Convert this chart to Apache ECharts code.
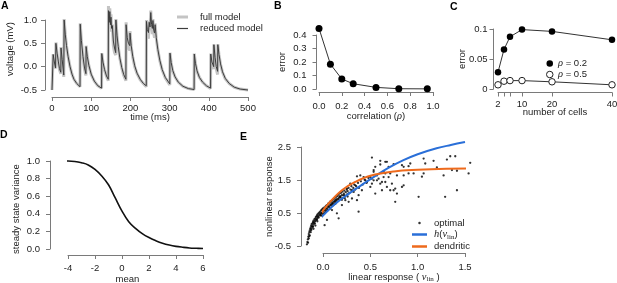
<!DOCTYPE html>
<html>
<head>
<meta charset="utf-8">
<script src="https://cdn.jsdelivr.net/npm/echarts@6/dist/echarts.min.js"></script>
<style>
html, body { margin: 0; padding: 0; background: #fff; }
#chart { width: 617px; height: 283px; }
</style>
</head>
<body>
<div id="chart"></div>
<script>
// A: voltage trace, rows are [time (ms), reduced model, full model]
var voltageTrace = [
	[0,-0.5,-0.5],[2.5,-0.5,-0.5],
	[3,0.26,0.27],[6,0.1,0.1],[9,-0.03,-0.04],
	[10,0.5,0.52],[13,0.29,0.28],[16,0.12,0.11],[19,-0.04,-0.06],[22.5,-0.12,-0.15],
	[23,0.4,0.42],[26,0.15,0.13],[30,-0.18,-0.22],
	[31,1.0,1.02],[34,0.68,0.68],[37,0.45,0.45],[41,0.22,0.22],[46,0.0,0.0],[51,-0.16,-0.16],[56,-0.27,-0.27],[63,-0.36,-0.36],[71.5,-0.43,-0.43],
	[72,0.91,0.93],[75,0.56,0.55],[79,0.22,0.2],[83,-0.03,-0.06],[86.5,-0.15,-0.19],
	[87,0.43,0.45],[90,0.22,0.21],[94,0.03,0.02],[100,-0.16,-0.17],[108,-0.31,-0.31],[117,-0.41,-0.41],[126.5,-0.46,-0.46],
	[127,0.28,0.29],[130,0.1,0.09],[134,-0.06,-0.07],[139,-0.2,-0.21],[143.5,-0.27,-0.3],
	[144,1.2,1.3],[146,0.95,0.9],[147.5,1.18,1.25],[149,0.9,0.82],[150.5,1.06,1.12],[152,0.82,0.75],[154,0.88,0.9],[156.5,0.55,0.45],[159.5,0.4,0.3],[162.5,0.3,0.25],
	[163,1.0,1.02],[166,0.66,0.65],[169,0.43,0.42],[173,0.19,0.18],[178,-0.02,-0.03],[183,-0.17,-0.19],[188.5,-0.27,-0.3],
	[189,0.9,0.95],[192,0.62,0.58],[195,0.5,0.4],[198.5,0.45,0.35],[199,0.72,0.76],[202,0.45,0.44],[206,0.22,0.2],[211,0.02,0.0],[217,-0.14,-0.15],[225,-0.27,-0.28],[233,-0.36,-0.36],[240.5,-0.41,-0.43],
	[241,0.97,1.0],[243,0.8,0.75],[246,0.73,0.6],[248,0.95,0.97],[250,0.85,0.8],[252,1.16,1.2],[254,0.9,0.85],[256,0.82,0.7],[257.5,0.99,1.02],[259.5,0.78,0.72],[261.5,0.72,0.62],[263,0.9,0.93],[266,0.62,0.6],[270,0.37,0.36],[275,0.14,0.13],[281,-0.06,-0.07],[289,-0.23,-0.24],[300.5,-0.37,-0.39],
	[301,0.29,0.3],[304,0.09,0.08],[308,-0.08,-0.09],[314,-0.22,-0.22],[322,-0.33,-0.33],[334,-0.42,-0.42],[348,-0.47,-0.47],[362.5,-0.49,-0.49],
	[363,0.27,0.28],[366,0.07,0.06],[370,-0.09,-0.1],[376,-0.23,-0.23],[384,-0.33,-0.33],[394,-0.41,-0.41],[404.5,-0.46,-0.47],
	[405,0.27,0.28],[408,0.1,0.08],[412.5,0.0,-0.05],
	[413,0.47,0.48],[416,0.2,0.18],[419,0.0,-0.05],[422.5,-0.1,-0.17],
	[423,0.47,0.48],[426,0.26,0.25],[430,0.06,0.05],[435,-0.11,-0.12],[442,-0.25,-0.26],[452,-0.36,-0.36],[465,-0.44,-0.44],[480,-0.48,-0.48],[500,-0.5,-0.5]
];

// B: error vs correlation
var corrValues = [0, 0.1, 0.2, 0.3, 0.5, 0.7, 0.95];
var corrError = [0.449, 0.184, 0.074, 0.039, 0.012, 0.002, 0.001];

// C: error vs number of cells
var cellCounts = [2, 4, 6, 10, 20, 40];
var cellTicks = [2, 4, 6, 10, 20, 40];
var cellLabels = [2, 10, 20, 40];
var errorRho02 = [0.028, 0.066, 0.087, 0.099, 0.096, 0.082];
var errorRho05 = [0.007, 0.013, 0.014, 0.014, 0.012, 0.007];

// D: steady state variance vs mean
var meanValues = [-5, -4, -3.5, -3, -2.5, -2, -1.5, -1, -0.5, 0, 0.5, 1, 1.5, 2, 2.5, 3, 3.5, 4, 4.5, 5, 5.5, 6];
var steadyVariance = [1.0, 1.0, 0.995, 0.98, 0.955, 0.905, 0.83, 0.73, 0.58, 0.43, 0.31, 0.235, 0.175, 0.13, 0.095, 0.066, 0.045, 0.03, 0.02, 0.012, 0.008, 0.005];

// E: nonlinear vs linear response
var hCurve = [[-0.16,-0.37],[-0.08,0.15],[0,0.42],[0.13,0.78],[0.27,1.08],[0.41,1.35],[0.55,1.62],[0.7,1.88],[0.85,2.1],[1.0,2.28],[1.2,2.46],[1.35,2.56],[1.5,2.65]];
var dendriticCurve = [[-0.22,-0.82],[-0.16,-0.47],[-0.1,0.03],[-0.03,0.44],[0.06,0.79],[0.2,1.19],[0.34,1.44],[0.5,1.63],[0.75,1.76],[1.0,1.81],[1.3,1.84],[1.68,1.85]];
var optimalPoints = [
	[-0.17,-0.45],[-0.165,-0.38],[-0.16,-0.3],[-0.158,-0.4],[-0.155,-0.22],[-0.15,-0.27],[-0.15,-0.14],[-0.145,-0.08],[-0.14,-0.18],[-0.14,-0.03],
	[-0.135,0.02],[-0.13,-0.08],[-0.13,0.06],[-0.125,0.11],[-0.12,0.02],[-0.12,0.16],[-0.115,0.08],[-0.11,0.19],[-0.11,0.1],[-0.105,0.23],
	[-0.1,0.15],[-0.1,0.27],[-0.095,0.2],[-0.09,0.31],[-0.085,0.24],[-0.08,0.34],[-0.08,0.27],[-0.075,0.38],[-0.07,0.3],[-0.065,0.41],
	[-0.06,0.34],[-0.06,0.45],[-0.055,0.38],[-0.05,0.48],[-0.045,0.41],[-0.04,0.51],[-0.035,0.45],[-0.03,0.54],[-0.025,0.48],[-0.02,0.58],
	[-0.015,0.5],[-0.01,0.61],[0,0.55],[0,0.64],[0.01,0.58],[0.015,0.67],[0.02,0.61],[0.03,0.71],[0.035,0.64],[0.04,0.74],
	[0.05,0.68],[0.055,0.78],[0.06,0.71],[0.07,0.81],[0.075,0.74],[0.08,0.85],[0.09,0.78],[0.095,0.88],[0.1,0.81],[0.11,0.91],
	[0.115,0.84],[0.12,0.95],[0.13,0.88],[0.135,0.98],[0.14,0.91],[0.15,1.01],[0.155,0.93],[0.16,1.05],[0.17,0.97],[0.175,1.09],
	[0.18,1.01],[0.19,1.11],[0.2,1.04],[0.205,1.15],[0.21,0.96],[0.22,1.09],[0.225,1.18],[0.23,1.03],[0.24,1.13],[0.25,1.21],
	[0.255,1.06],[0.26,1.16],[0.27,1.26],[0.28,1.11],[0.29,1.21],[0.3,1.31],[0.31,1.16],[0.32,1.26],[0.33,1.36],[0.34,1.21],
	[0.35,1.31],[0.37,1.41],[0.38,1.26],[0.4,1.46],[0.42,1.36],[0.44,1.51],[0.46,1.41],[0.48,1.56],
	[-0.1,0.02],[-0.06,0.25],[-0.02,0.42],[0.02,0.5],[0.05,0.58],[0.08,0.66],[0.11,0.74],[0.14,0.82],[-0.08,0.12],[0.0,0.47],
	[0.04,0.56],[0.07,0.62],[0.1,0.72],[0.13,0.78],
	[-0.145,-0.2],[-0.125,-0.02],[-0.105,0.08],[-0.085,0.18],[-0.065,0.3],[-0.045,0.36],[-0.025,0.44],[-0.005,0.5],[0.025,0.56],[0.045,0.62],
	[0.065,0.68],[0.085,0.74],[0.105,0.78],[0.125,0.85],[0.145,0.88],[0.165,0.92],[0.185,0.97],[0.2,0.9],[0.23,0.95],[0.26,1.0],
	[0.517,2.18],[0.552,1.9],[0.535,1.8],[0.605,1.97],[0.675,2.05],[0.658,1.7],[0.693,1.59],[0.623,1.44],[0.57,1.49],[0.517,1.54],
	[0.464,1.44],[0.5,1.29],[0.411,1.19],[0.376,1.04],[0.359,0.89],[0.376,0.54],[0.306,0.94],[0.271,1.09],[0.324,1.14],[0.341,1.34],
	[0.394,1.64],[0.359,1.61],[0.429,1.59],[0.447,1.49],[0.236,0.89],[0.2,0.74],[0.165,0.34],[0.147,0.49],[0.095,0.59],[0.042,0.29],
	[0.017,0.13],[0.288,1.39],[0.253,1.24],[0.306,1.19],[0.218,1.04],[0.271,0.84],[0.183,0.99],[0.13,0.79],[0.763,1.24],[0.728,1.39],
	[0.605,2.08],[0.658,2.05],[0.693,1.9],[0.746,1.98],[0.834,1.95],[0.852,1.9],[0.904,1.92],[0.922,2.0],[1.063,2.15],[1.08,2.0],
	[1.168,2.08],[1.309,2.12],[1.344,2.22],[1.397,2.22],[1.555,2.02],[1.538,1.7],[1.415,1.78],[1.362,1.8],[1.203,1.88],[1.063,1.7],
	[1.045,1.6],[0.957,1.7],[0.904,1.7],[0.852,1.64],[0.781,1.64],[0.71,1.7],[0.64,1.75],[0.57,1.64],[0.535,1.49],[0.605,1.39],
	[0.658,1.44],[0.675,1.29],[0.623,1.19],[0.552,1.09],[0.71,1.19],[0.746,1.19],[0.781,1.09],[0.852,1.34],[0.834,1.29],[0.763,0.84],
	[1.01,0.99],[1.29,0.99],[1.415,1.19],[1.274,1.64],[0.535,1.75],[0.5,1.59],[0.517,1.39],[0.587,1.54],[0.64,1.59]
];

var axisGray = '#7a7a7a';
var ink = '#222';
var sans = '"Liberation Sans", Arial, sans-serif';
var serif = '"Liberation Serif", "DejaVu Serif", serif';
var blue = '#2a6fd8';
var orange = '#ee6a1c';

function fixed1(v) {
	return v.toFixed(1);
}

function axis(o) {
	return {
		type: 'value',
		gridIndex: o.grid,
		min: o.min,
		max: o.max,
		interval: o.interval,
		offset: o.offset,
		name: o.name,
		nameLocation: 'middle',
		nameGap: o.nameGap,
		nameMoveOverlap: false,
		nameTextStyle: {color: ink, fontSize: 9.5, fontFamily: sans, rich: o.rich || {}, padding: o.namePad || 0},
		axisLine: {show: true, onZero: false, lineStyle: {color: axisGray, width: 1}},
		axisTick: {show: true, length: 4, lineStyle: {color: axisGray, width: 1}, customValues: o.ticks},
		axisLabel: {color: ink, fontSize: 9.5, fontFamily: sans, margin: o.margin, formatter: o.fmt,
			customValues: o.labels, showMinLabel: true, showMaxLabel: true, hideOverlap: false},
		splitLine: {show: false}
	};
}

var greek = {g: {fontFamily: serif, fontStyle: 'italic', fontSize: 10.5}};
var vlin = {
	v: {fontFamily: serif, fontStyle: 'italic', fontSize: 10.5},
	s: {fontFamily: serif, fontSize: 7, verticalAlign: 'bottom', lineHeight: 12},
	h: {fontFamily: serif, fontStyle: 'italic', fontSize: 10.5}
};

var chart = echarts.init(document.getElementById('chart'));

var option = {
	animation: false,
	backgroundColor: '#fff',
	textStyle: {fontFamily: sans},
	grid: [
		{left: 52, top: 20, width: 196, height: 70, outerBoundsMode: 'none', containLabel: false},
		{left: 319, top: 35, width: 114, height: 54, outerBoundsMode: 'none', containLabel: false},
		{left: 498, top: 29, width: 114, height: 60, outerBoundsMode: 'none', containLabel: false},
		{left: 68, top: 161, width: 135, height: 88, outerBoundsMode: 'none', containLabel: false},
		{left: 323, top: 147, width: 142, height: 99, outerBoundsMode: 'none', containLabel: false}
	],
	xAxis: [
		axis({grid: 0, min: 0, max: 500, interval: 100, offset: 7, margin: 6, name: 'time (ms)', nameGap: 15}),
		axis({grid: 1, min: 0, max: 1, interval: 0.2, offset: 3, margin: 9, fmt: fixed1, name: 'correlation ({g|ρ})', nameGap: 19, rich: greek}),
		axis({grid: 2, min: 2, max: 40, offset: 3.5, margin: 7, ticks: cellTicks, labels: cellLabels, name: 'number of cells', nameGap: 15}),
		axis({grid: 3, min: -4, max: 6, interval: 2, offset: 6, margin: 8, name: 'mean', nameGap: 19, namePad: [0, 16, 0, 0]}),
		axis({grid: 4, min: 0, max: 1.5, interval: 0.5, offset: 7, margin: 9, fmt: fixed1, name: 'linear response ( {v|v}{s|lin} )', nameGap: 18, rich: vlin})
	],
	yAxis: [
		axis({grid: 0, min: -0.5, max: 1, interval: 0.5, offset: 7, margin: 8, fmt: fixed1, name: 'voltage (mV)', nameGap: 30, namePad: [0, 0, 0, 12]}),
		axis({grid: 1, min: 0, max: 0.4, interval: 0.1, offset: 2.5, margin: 10, fmt: fixed1, name: 'error', nameGap: 29}),
		axis({grid: 2, min: 0, max: 0.1, interval: 0.05, offset: 4.5, margin: 6, name: 'error', nameGap: 26}),
		axis({grid: 3, min: 0, max: 1, interval: 0.2, offset: 18, margin: 10, fmt: fixed1, name: 'steady state variance', nameGap: 29, namePad: [0, 8, 0, 0]}),
		axis({grid: 4, min: -0.5, max: 2.5, interval: 1, offset: 22, margin: 10, name: 'nonlinear response', nameGap: 27})
	],
	legend: [
		{data: [{name: 'full model', icon: 'rect'}], left: 172, top: 7, itemWidth: 11, itemHeight: 3, selectedMode: false,
			textStyle: {color: ink, fontSize: 9.5, fontFamily: sans, padding: [0, 0, 0, 7]}},
		{data: [{name: 'reduced model', icon: 'rect'}], left: 172, top: 18.5, itemWidth: 11, itemHeight: 1.2, selectedMode: false,
			textStyle: {color: ink, fontSize: 9.5, fontFamily: sans, padding: [0, 0, 0, 7]}},
		{data: [{name: 'ρ = 0.2', icon: 'circle'}, {name: 'ρ = 0.5', icon: 'circle'}], left: 541, top: 53, orient: 'vertical',
			itemWidth: 6.5, itemHeight: 6.5, itemGap: 0, selectedMode: false,
			itemStyle: {borderWidth: 1},
			formatter: function(name) {
				return '{g|ρ}' + name.slice(1);
			},
			textStyle: {color: ink, fontSize: 9.5, fontFamily: sans, rich: greek}},
		{data: [{name: 'optimal', icon: 'circle'}, {name: 'h', icon: 'rect'}, {name: 'dendritic', icon: 'rect'}], left: 407, top: 213,
			orient: 'vertical', itemWidth: 15, itemHeight: 2.5, itemGap: 1, selectedMode: false,
			formatter: function(name) {
				return name === 'h' ? '{h|h}({v|v}{s|lin})' : name;
			},
			textStyle: {color: ink, fontSize: 9.5, fontFamily: sans, padding: [0, 0, 0, 2], rich: vlin}}
	],
	graphic: [
		{type: 'text', left: 1, top: 1, style: {text: 'A', font: 'bold 10.5px ' + sans, fill: '#000'}},
		{type: 'text', left: 274, top: 1, style: {text: 'B', font: 'bold 10.5px ' + sans, fill: '#000'}},
		{type: 'text', left: 450, top: 2, style: {text: 'C', font: 'bold 10.5px ' + sans, fill: '#000'}},
		{type: 'text', left: 0, top: 130, style: {text: 'D', font: 'bold 10.5px ' + sans, fill: '#000'}},
		{type: 'text', left: 240, top: 132, style: {text: 'E', font: 'bold 10.5px ' + sans, fill: '#000'}}
	],
	series: [
		{
			name: 'full model', type: 'line', xAxisIndex: 0, yAxisIndex: 0, symbol: 'none', clip: false, z: 1,
			lineStyle: {color: '#c4c4c4', width: 3}, itemStyle: {color: '#c4c4c4'},
			data: voltageTrace.map(function(r) { return [r[0], r[2]]; })
		},
		{
			name: 'reduced model', type: 'line', xAxisIndex: 0, yAxisIndex: 0, symbol: 'none', clip: false, z: 2,
			lineStyle: {color: '#3c3c3c', width: 1}, itemStyle: {color: '#3c3c3c'},
			data: voltageTrace.map(function(r) { return [r[0], r[1]]; })
		},
		{
			name: 'correlation', type: 'line', xAxisIndex: 1, yAxisIndex: 1, clip: false,
			symbol: 'circle', symbolSize: 7, lineStyle: {color: '#333', width: 1}, itemStyle: {color: '#000'},
			data: corrValues.map(function(c, i) { return [c, corrError[i]]; })
		},
		{
			name: 'ρ = 0.2', type: 'line', xAxisIndex: 2, yAxisIndex: 2, clip: false,
			symbol: 'circle', symbolSize: 6.5, lineStyle: {color: '#333', width: 1}, itemStyle: {color: '#000'},
			data: cellCounts.map(function(n, i) { return [n, errorRho02[i]]; })
		},
		{
			name: 'ρ = 0.5', type: 'line', xAxisIndex: 2, yAxisIndex: 2, clip: false,
			symbol: 'circle', symbolSize: 6.5, lineStyle: {color: '#333', width: 1},
			itemStyle: {color: '#fff', borderColor: '#222', borderWidth: 1},
			data: cellCounts.map(function(n, i) { return [n, errorRho05[i]]; })
		},
		{
			name: 'variance', type: 'line', xAxisIndex: 3, yAxisIndex: 3, clip: false, symbol: 'none',
			smooth: 0.4, lineStyle: {color: '#111', width: 1.6},
			data: meanValues.map(function(m, i) { return [m, steadyVariance[i]]; })
		},
		{
			name: 'optimal', type: 'scatter', xAxisIndex: 4, yAxisIndex: 4, clip: false, z: 2,
			symbolSize: 2.3, itemStyle: {color: '#000'},
			data: optimalPoints
		},
		{
			name: 'h', type: 'line', xAxisIndex: 4, yAxisIndex: 4, clip: false, symbol: 'none', z: 3,
			smooth: 0.4, lineStyle: {color: blue, width: 2}, itemStyle: {color: blue},
			data: hCurve
		},
		{
			name: 'dendritic', type: 'line', xAxisIndex: 4, yAxisIndex: 4, clip: false, symbol: 'none', z: 3,
			smooth: 0.4, lineStyle: {color: orange, width: 2}, itemStyle: {color: orange},
			data: dendriticCurve
		}
	]
};

chart.setOption(option);
</script>
</body>
</html>
